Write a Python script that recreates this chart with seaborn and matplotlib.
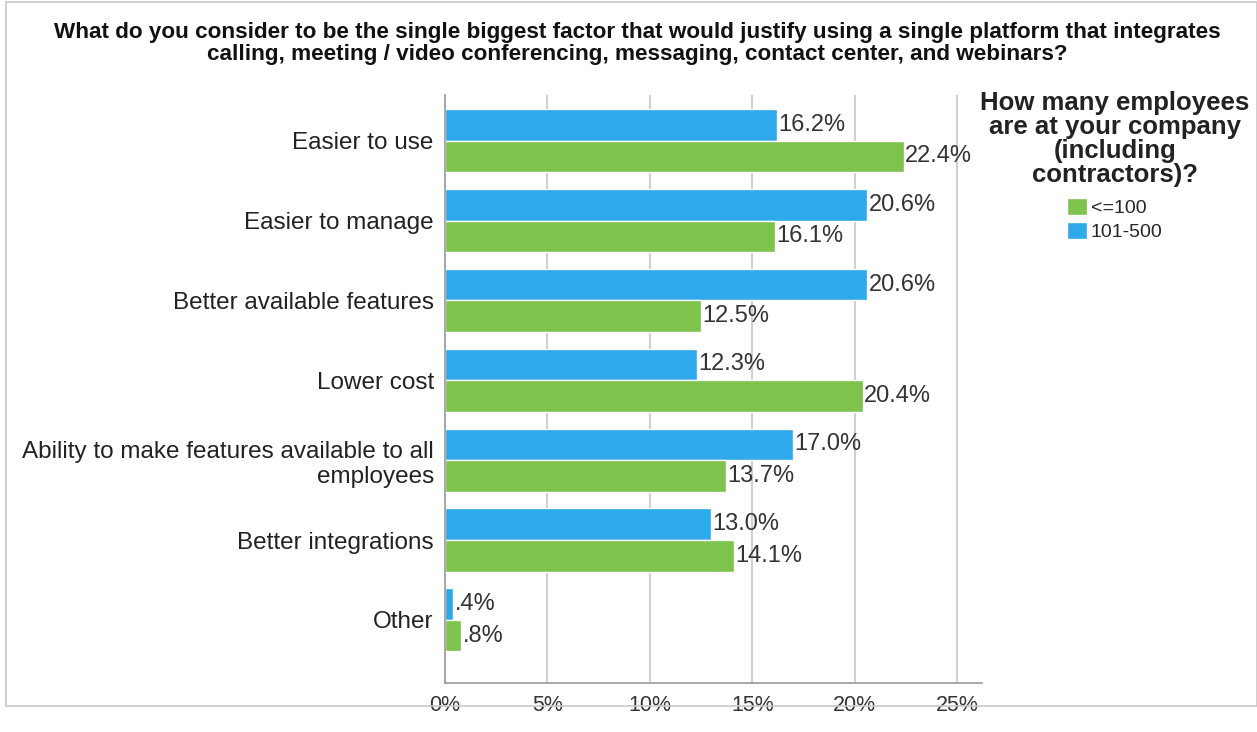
import matplotlib
matplotlib.use("Agg")
import matplotlib.pyplot as plt
import seaborn as sns
import pandas as pd
from matplotlib.patches import Patch, Rectangle

categories = ["Easier to use", "Easier to manage", "Better available features", "Lower cost",
              "Ability to make features available to all\nemployees", "Better integrations", "Other"]
small_vals = [22.4, 16.1, 12.5, 20.4, 13.7, 14.1, 0.8]   # <=100
mid_vals = [16.2, 20.6, 20.6, 12.3, 17.0, 13.0, 0.4]     # 101-500
series = ["101-500", "<=100"]
ticks = [0, 5, 10, 15, 20, 25]
tick_labels = ["0%", "5%", "10%", "15%", "20%", "25%"]

title = ("What do you consider to be the single biggest factor that would justify using a single platform that integrates\n"
         "calling, meeting / video conferencing, messaging, contact center, and webinars?")
legend_title = "How many employees\nare at your company\n(including\ncontractors)?"

colors = {"101-500": "#2EA9EA", "<=100": "#7DC34C"}

df = pd.DataFrame({
    "Factor": categories * 2,
    "Size": ["101-500"] * len(categories) + ["<=100"] * len(categories),
    "Value": mid_vals + small_vals,
})

sns.set_theme(style="white")
plt.rcParams['font.family'] = ['Liberation Sans', 'DejaVu Sans']

fig = plt.figure(figsize=(12.57, 7.32), dpi=100)
ax = fig.add_axes([0.354, 0.067, 0.427, 0.803])

sns.barplot(data=df, y="Factor", x="Value", hue="Size", order=categories, hue_order=series,
            palette=colors, orient="h", width=0.79, ax=ax, legend=False, saturation=1)

for cont in ax.containers:
    labels = []
    for v in cont.datavalues:
        s = f"{v:.1f}%"
        if s.startswith("0."):
            s = s[1:]
        labels.append(s)
    ax.bar_label(cont, labels=labels, padding=1, fontsize=17, color="#333333")

ax.set_xlim(0, 26.2)
ax.set_ylim(6.79, -0.57)
ax.set_xticks(ticks)
ax.set_xticklabels(tick_labels, fontsize=15.5, color="#333333")
ax.tick_params(axis="y", labelsize=17.5, colors="#222222", length=0, pad=8)
ax.tick_params(axis="x", length=0, pad=9)
ax.set_xlabel("")
ax.set_ylabel("")
ax.xaxis.grid(True, color="#d0d0d0", linewidth=1.5)
ax.set_axisbelow(True)
for s in ["top", "right"]:
    ax.spines[s].set_visible(False)
ax.spines["left"].set_color("#999999")
ax.spines["bottom"].set_color("#999999")
ax.spines["left"].set_linewidth(1.2)
ax.spines["bottom"].set_linewidth(1.2)

fig.text(0.507, 0.97, title, ha="center", va="top", fontsize=16.2, fontweight="bold",
         color="#111111", linespacing=1.05)

handles = [Patch(facecolor=colors["<=100"], label="<=100"),
           Patch(facecolor=colors["101-500"], label="101-500")]
leg = fig.legend(handles=handles, title=legend_title, loc="upper center",
                 bbox_to_anchor=(0.887, 0.9), frameon=False, fontsize=14,
                 title_fontproperties={"weight": "bold", "size": 18.5},
                 handlelength=1.0, handleheight=1.0, handletextpad=0.2, labelspacing=0.25)
leg._legend_box.align = "center"
leg._legend_box.sep = 8
leg.get_title().set_multialignment("center")
leg.get_title().set_color("#222222")
leg.get_title().set_linespacing(1.0)

fig.patches.append(Rectangle((0.005, 0.035), 0.995, 0.962, transform=fig.transFigure,
                             fill=False, edgecolor="#c8c8c8", linewidth=1.2))

fig.savefig("out.png", dpi=100)
